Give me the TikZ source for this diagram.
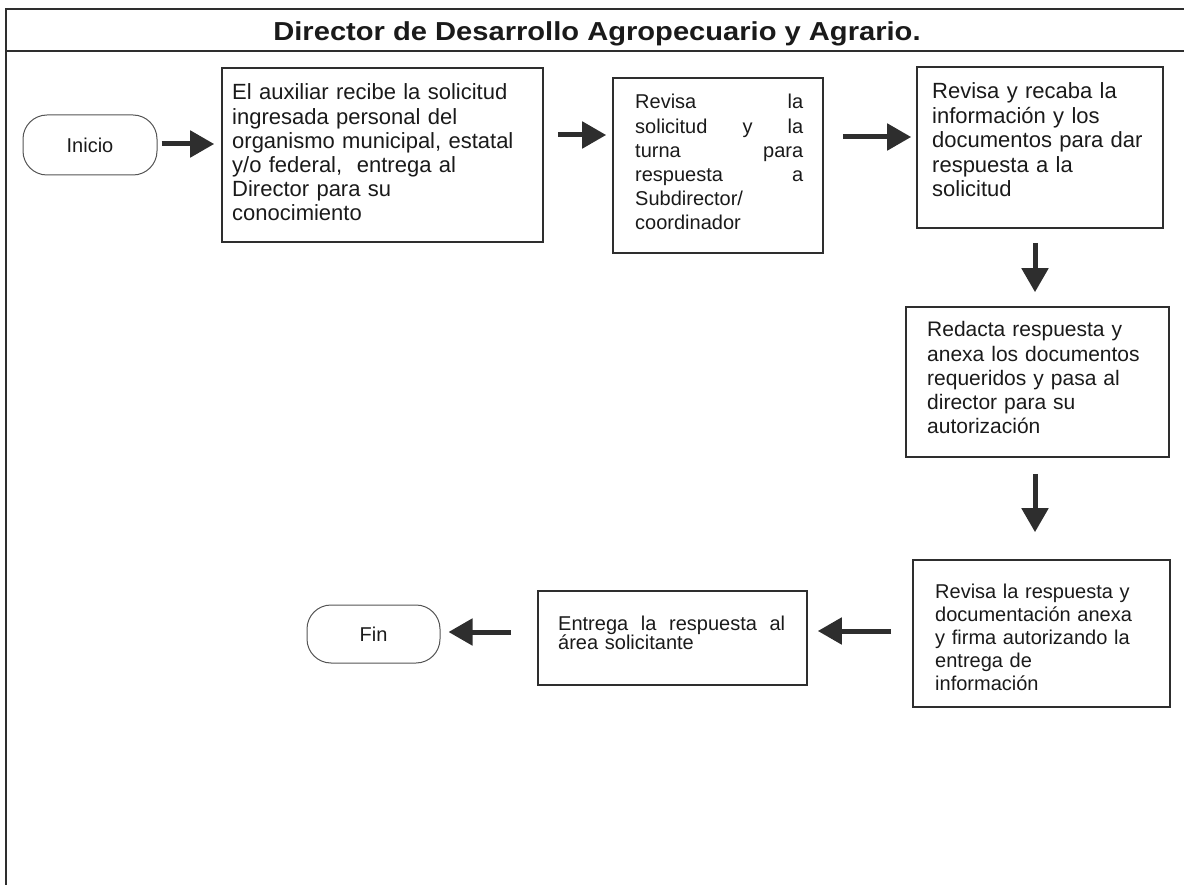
\documentclass[tikz,border=0pt]{standalone}
\usepackage{graphicx}
\usepackage{fontspec}
\setmainfont{Liberation Sans}
\usetikzlibrary{arrows.meta,calc}
\definecolor{ink}{HTML}{1A1A1A}
\definecolor{edge}{HTML}{2E2E2E}
\definecolor{soft}{HTML}{555555}
% a line of fixed width whose words are spread out (justified line)
\newcommand{\justline}[2]{\leavevmode\hbox to #1{#2}}

\begin{document}
\begin{tikzpicture}[x=1pt,y=-1pt,
  stepbox/.style={draw=edge,line width=1.6pt,inner sep=0pt},
  term/.style={draw=soft,line width=1pt,rounded corners=24pt,inner sep=0pt,
    font=\fontsize{20}{24}\selectfont,text=ink},
  txt/.style={anchor=base west,inner sep=0pt,text width=320pt,align=left,text=ink},
  flow/.style={draw=edge,line width=5pt,-{Triangle[length=24pt,width=26pt]}}
]
\useasboundingbox (0,0) rectangle (1184,885);

% outer frame and title band
\draw[edge,line width=1.3pt] (1184,9) -- (6,9) -- (6,885);
\draw[edge,line width=1.3pt] (6,51) -- (1184,51);
\node[anchor=base,inner sep=0pt,text=ink,font=\fontsize{26}{30}\selectfont\bfseries] (title) at (597,41)
  {\scalebox{1.12}[1]{Director de Desarrollo Agropecuario y Agrario.}};

% terminals
\node[term,minimum width=134pt,minimum height=60pt] (ini) at (90,145) {Inicio};
\node[term,minimum width=133pt,minimum height=58pt] (fin) at (373.5,634) {Fin};

% process boxes
\node[stepbox,minimum width=321pt,minimum height=174pt] (b1) at (382.5,155) {};
\node[stepbox,minimum width=210pt,minimum height=175pt] (b2) at (718,165.5) {};
\node[stepbox,minimum width=246pt,minimum height=161pt] (b3) at (1040,147.5) {};
\node[stepbox,minimum width=263pt,minimum height=150pt] (b4) at (1037.5,382) {};
\node[stepbox,minimum width=257pt,minimum height=147pt] (b5) at (1041.5,633.5) {};
\node[stepbox,minimum width=269pt,minimum height=94pt] (ent) at (672.5,638) {};

% box texts
\node[txt,font=\fontsize{22}{24.2}\selectfont] (t1) at (232,100)
  {El auxiliar recibe la solicitud\\ingresada personal del\\organismo municipal, estatal\\y/o federal,\ \ entrega al\\Director para su\\conocimiento};
\node[txt,font=\fontsize{20}{24.2}\selectfont] (t2) at (635,109)
  {\justline{168pt}{Revisa\hfill la}\\
   \justline{168pt}{solicitud\hfill y\hfill la}\\
   \justline{168pt}{turna\hfill para}\\
   \justline{168pt}{respuesta\hfill a}\\
   Subdirector/\\coordinador};
\node[txt,font=\fontsize{22}{24.5}\selectfont] (t3) at (932,99)
  {Revisa y recaba la\\información y los\\documentos para dar\\respuesta a la\\solicitud};
\node[txt,font=\fontsize{21}{24.2}\selectfont] (t4) at (927,337)
  {Redacta respuesta y\\anexa los documentos\\requeridos y pasa al\\director para su\\autorización};
\node[txt,font=\fontsize{20}{23}\selectfont] (t5) at (935,598)
  {Revisa la respuesta y\\documentación anexa\\y firma autorizando la\\entrega de\\información};
\node[txt,font=\fontsize{20}{19}\selectfont] (t6) at (558,630)
  {\justline{227pt}{Entrega\hfill la\hfill respuesta\hfill al}\\área solicitante};

% connectors
\draw[flow,shorten <=4pt,shorten >=7pt] (ini.east |- 0,144) -- (b1.west |- 0,144);
\draw[flow,shorten <=14pt,shorten >=6pt] (b1.east |- 0,135) -- (b2.west |- 0,135);
\draw[flow,shorten <=19pt,shorten >=5pt] (b2.east |- 0,137) -- (b3.west |- 0,137);
\draw[flow,shorten <=14pt,shorten >=14pt] (b3.south -| 1035,0) -- (b4.north -| 1035,0);
\draw[flow,shorten <=16pt,shorten >=27pt] (b4.south -| 1035,0) -- (b5.north -| 1035,0);
\draw[flow,shorten <=21pt,shorten >=10pt] (b5.west |- 0,631) -- (ent.east |- 0,631);
\draw[flow,shorten <=26pt,shorten >=8pt] (ent.west |- 0,632) -- (fin.east |- 0,632);
\end{tikzpicture}
\end{document}
